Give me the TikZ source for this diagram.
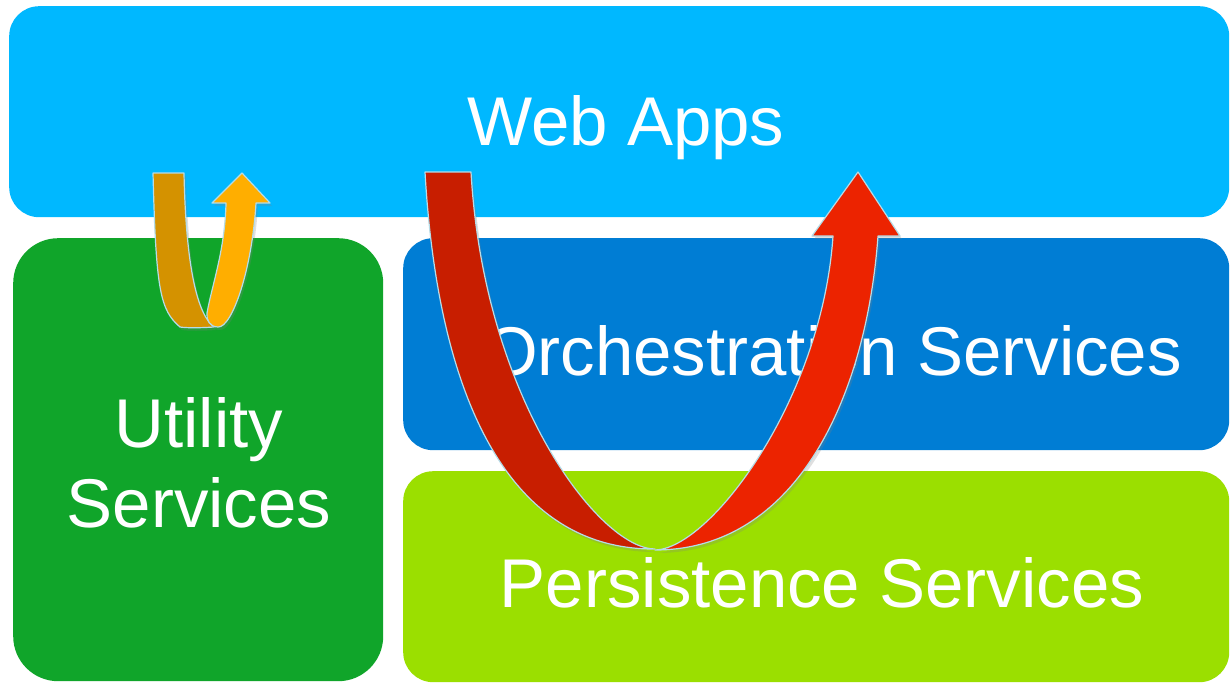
\documentclass[tikz,border=0pt]{standalone}
\usepackage{fontspec}
\setmainfont{Liberation Sans}
\usetikzlibrary{shadows}
\definecolor{webblue}{RGB}{0,184,255}
\definecolor{orchblue}{RGB}{0,125,212}
\definecolor{persgreen}{RGB}{155,223,0}
\definecolor{utilgreen}{RGB}{16,165,42}
\definecolor{darkred}{RGB}{200,30,0}
\definecolor{brightred}{RGB}{236,35,0}
\definecolor{darkorange}{RGB}{212,146,0}
\definecolor{brightorange}{RGB}{255,174,0}
\definecolor{ribbonedge}{RGB}{181,220,232}
\tikzset{
  tile/.style={draw=none, rounded corners=30pt, anchor=north west, inner sep=0pt},
  label/.style={text=white, anchor=base, inner sep=0pt, font=\fontsize{69}{80}\selectfont},
  ribbon/.style={draw=ribbonedge, line width=1.2pt, line join=round,
    drop shadow={opacity=0.25, shadow xshift=2pt, shadow yshift=-3pt}},
}
\begin{document}
\begin{tikzpicture}[x=1pt, y=-1pt]
\useasboundingbox (0,0) rectangle (1230,682);
\fill[white] (0,0) rectangle (1230,682);
% tiles
\node[tile, fill=webblue, minimum width=1220pt, minimum height=211pt] (web) at (9,6) {};
\node[tile, fill=utilgreen, rounded corners=45pt, minimum width=370pt, minimum height=443pt] (util) at (13,238) {};
\node[tile, fill=orchblue, minimum width=826pt, minimum height=212pt] (orch) at (403,238) {};
\node[tile, fill=persgreen, minimum width=826pt, minimum height=211pt] (pers) at (403,471) {};
% labels
\node[label] (webt) at (626,145) {Web Apps};
\node[label] (utilt1) at (199,447) {Utility};
\node[label] (utilt2) at (199,527) {Services};
\node[label] (orcht) at (833,375) {Orchestration Services};
\node[label] (perst) at (822,607) {Persistence Services};
% small orange ribbon arrow
\path[ribbon, fill=darkorange] (153,173) -- (184,173)
  .. controls (186,270) and (198,315) .. (214,327)
  .. controls (200,328) and (186,328) .. (180,327)
  .. controls (160,310) and (156,290) .. (153,173) -- cycle;
\path[ribbon, fill=brightorange] (226,203) -- (212,203) -- (242,173) -- (270,203) -- (256,203)
  .. controls (252,270) and (232,328) .. (218,327)
  .. controls (210,327) and (206,320) .. (207,313)
  .. controls (212,285) and (225,250) .. (226,203) -- cycle;
% large red ribbon arrow
\path[ribbon, fill=darkred] (425,172) -- (471,172)
  .. controls (484,400) and (600,549) .. (655,549)
  .. controls (510,550) and (438,400) .. (425,172) -- cycle;
\path[ribbon, fill=brightred] (833,236) -- (812,236) -- (858,172) -- (900,236) -- (878,236)
  .. controls (866,400) and (795,550) .. (655,550)
  .. controls (710,549) and (822,400) .. (833,236) -- cycle;
\end{tikzpicture}
\end{document}
